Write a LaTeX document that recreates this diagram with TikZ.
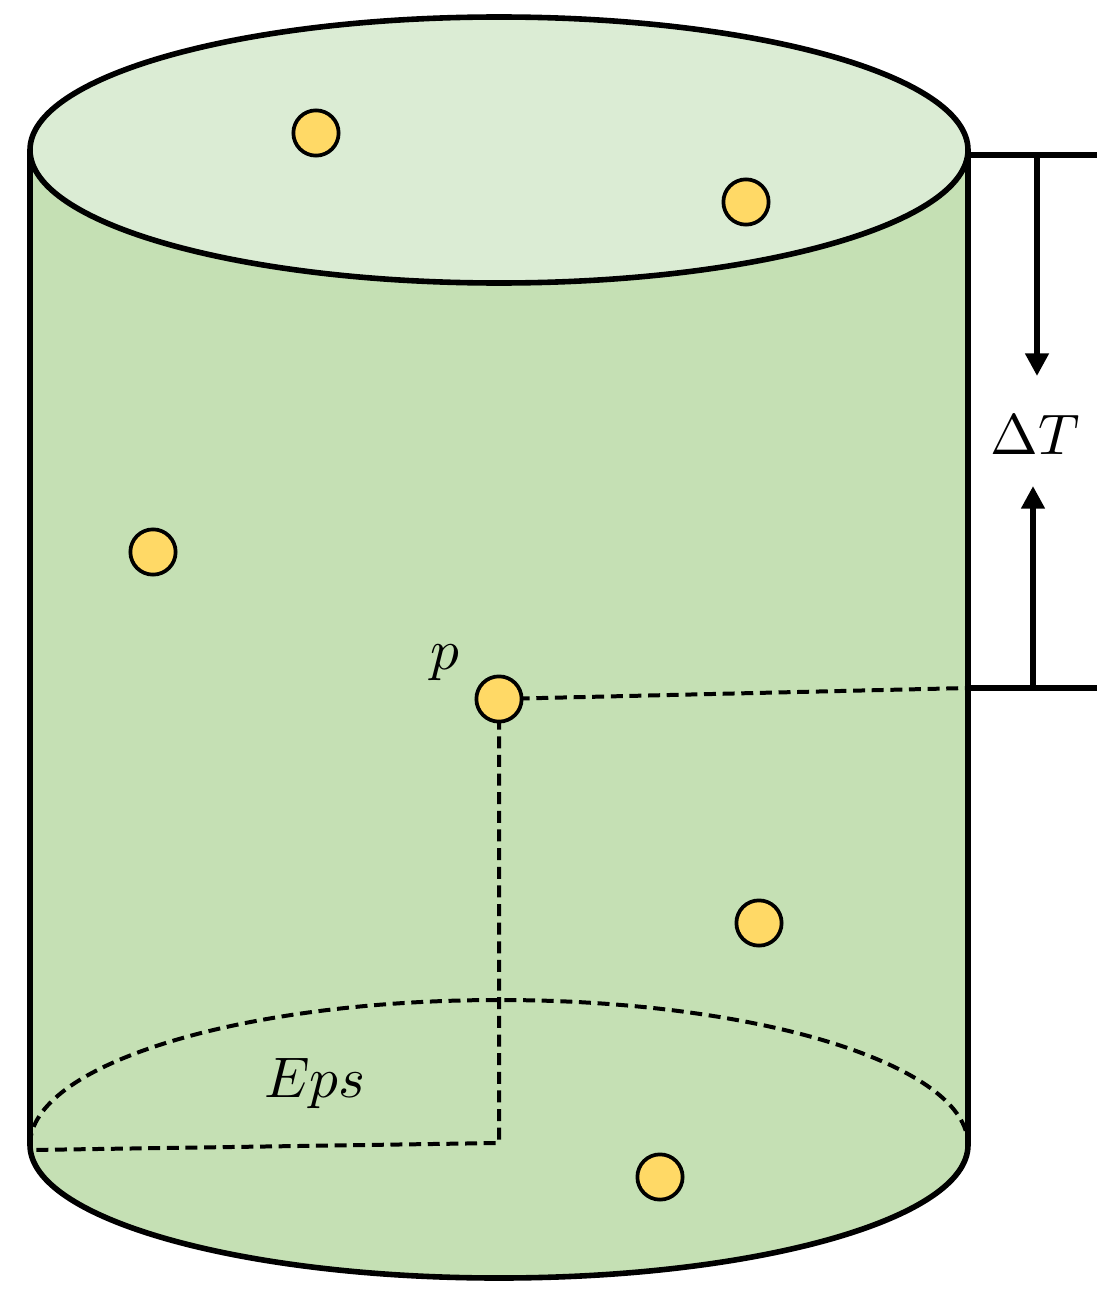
\documentclass[tikz,border=0pt]{standalone}
\usetikzlibrary{arrows.meta}
\definecolor{side}{HTML}{C5E0B4}
\definecolor{topc}{HTML}{DBECD4}
\definecolor{dotc}{HTML}{FFD966}
\tikzset{
  dot/.style={circle,draw=black,line width=2.8pt,fill=dotc,minimum size=34pt,inner sep=0pt},
  edge/.style={line width=4.2pt},
  dsh/.style={line width=3pt,dash pattern=on 9pt off 5pt},
  arr/.style={line width=4.2pt,-{Triangle[length=17pt,width=17pt]}},
  lbl/.style={scale=4.3}
}
\begin{document}
\begin{tikzpicture}[x=0.0264cm,y=-0.0264cm]
\useasboundingbox (0,0) rectangle (1118,1299);
\fill[side] (30,150) -- (30,1145) arc[start angle=180,end angle=0,x radius=469,y radius=133] -- (968,150) -- cycle;
\draw[edge] (30,150) -- (30,1145) arc[start angle=180,end angle=0,x radius=469,y radius=133] -- (968,150);
\draw[edge,fill=topc] (499,150) ellipse[x radius=469,y radius=133];
\draw[dsh] (30,1145) arc[start angle=180,end angle=360,x radius=469,y radius=145];
\coordinate (t1) at (968,155); \coordinate (t2) at (1097,155);
\coordinate (b1) at (968,688); \coordinate (b2) at (1097,688);
\draw[edge] (t1) -- (t2);
\draw[edge] (b1) -- (b2);
\node[lbl] (dt) at (1035,435) {$\Delta T$};
\coordinate (a1) at (1037,155); \coordinate (a1e) at (1037,376);
\coordinate (a2) at (1033,688); \coordinate (a2e) at (1033,486);
\draw[arr] (a1) -- (a1e);
\draw[arr] (a2) -- (a2e);
\coordinate (pc) at (499,699);
\coordinate (c1) at (499,1143);
\coordinate (c2) at (30,1150);
\draw[dsh] (pc) -- (b1);
\draw[dsh] (pc) -- (c1) -- (c2);
\node[dot] (d1) at (316,133) {};
\node[dot] (d2) at (746,202) {};
\node[dot] (d3) at (153,552) {};
\node[dot] (p) at (499,699) {};
\node[dot] (d5) at (759,923) {};
\node[dot] (d6) at (660,1177) {};
\node[lbl] (pl) at (445,663) {$p$};
\node[lbl] (eps) at (315,1083) {$Eps$};
\end{tikzpicture}
\end{document}
